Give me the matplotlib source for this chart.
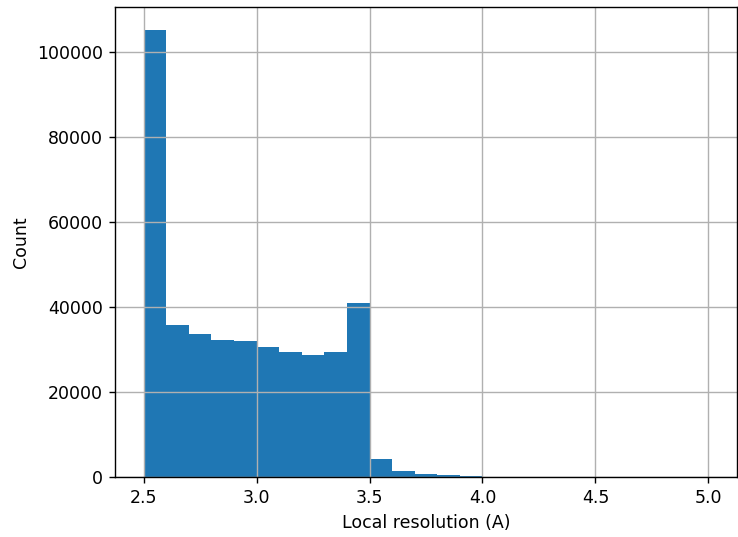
import numpy as np
import matplotlib
matplotlib.use("Agg")
import matplotlib.pyplot as plt

# Histogram of local resolution values (bin width 0.1 A)
bin_start = 2.5
bin_end = 5.0
counts = [105200, 35800, 33600, 32300, 32000, 30500, 29400, 28800, 29400, 41000,
          4200, 1500, 700, 400, 200, 80, 40, 20, 10, 8, 5, 4, 3, 2, 2]
x_label = "Local resolution (A)"
y_label = "Count"

edges = np.linspace(bin_start, bin_end, len(counts) + 1)
centers = (edges[:-1] + edges[1:]) / 2

DPI = 125
fig = plt.figure(figsize=(738 / DPI, 537 / DPI), dpi=DPI)
ax = fig.add_axes([115.3 / 738, 1 - 477 / 537, (736.7 - 115.3) / 738, (477 - 7.3) / 537])
ax.hist(centers, bins=edges, weights=counts, color="#1f77b4")
ax.grid(True)
ax.set_xlabel(x_label)
ax.set_ylabel(y_label)
fig.savefig("out.png", dpi=DPI)
